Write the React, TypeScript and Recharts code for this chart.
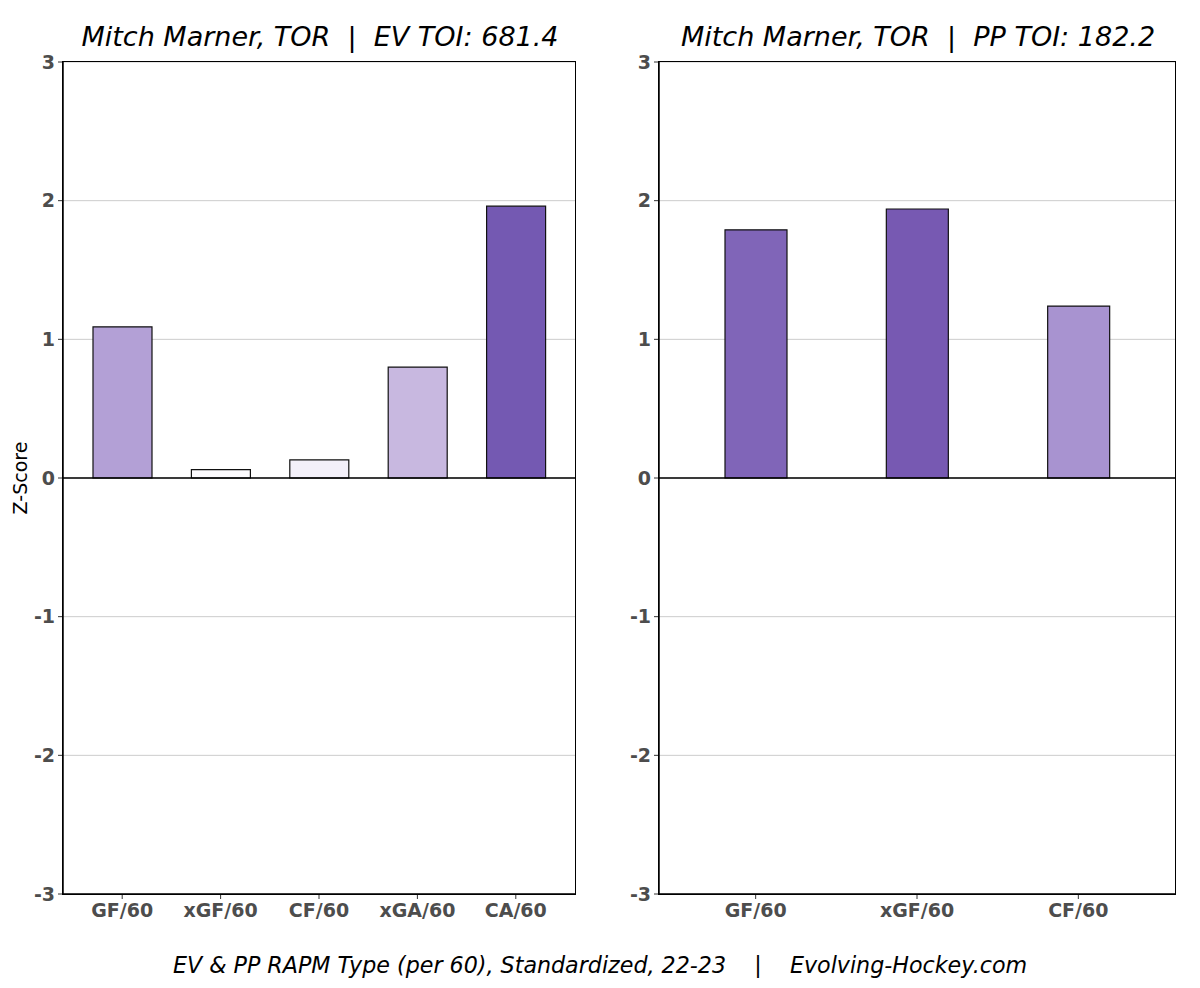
import { BarChart, Bar, Cell, XAxis, YAxis, CartesianGrid, ReferenceLine } from "recharts";

const evCategories = ["GF/60", "xGF/60", "CF/60", "xGA/60", "CA/60"];
const evValues = [1.09, 0.06, 0.13, 0.8, 1.96];
const evColors = ["#b3a0d6", "#fbfafd", "#f3f0f9", "#c8b8e0", "#7459b2"];

const ppCategories = ["GF/60", "xGF/60", "CF/60"];
const ppValues = [1.79, 1.94, 1.24];
const ppColors = ["#8065b8", "#7759b2", "#a893d0"];

const yTicks = [-3, -2, -1, 0, 1, 2, 3];

const FONT = "'DejaVu Sans', sans-serif";
const tickStyle = { fontFamily: FONT, fontSize: 19, fontWeight: "bold", fill: "#4d4d4d" };

interface PanelProps {
  categories: string[];
  values: number[];
  colors: string[];
  padding: number;
  barSize: number;
  marginLeft: number;
}

function Panel({ categories, values, colors, padding, barSize, marginLeft }: PanelProps) {
  const data = categories.map((c, i) => ({ name: c, value: values[i], color: colors[i] }));
  return (
    <div style={{ position: "relative", width: 600, height: 988 }}>
      <BarChart
        width={600}
        height={988}
        data={data}
        margin={{ top: 62, right: 25, bottom: 64, left: marginLeft }}
      >
        <CartesianGrid horizontal vertical={false} stroke="#cccccc" strokeWidth={1} />
        <XAxis
          dataKey="name"
          padding={{ left: padding, right: padding }}
          height={30}
          tick={tickStyle}
          tickSize={5}
          tickMargin={5}
          axisLine={{ stroke: "#000", strokeWidth: 1.5 }}
          tickLine={{ stroke: "#333" }}
          interval={0}
        />
        <YAxis
          domain={[-3, 3]}
          ticks={yTicks}
          width={55}
          tick={tickStyle}
          tickSize={5}
          tickMargin={3}
          axisLine={{ stroke: "#000", strokeWidth: 1.5 }}
          tickLine={{ stroke: "#333" }}
          allowDataOverflow
        />
        <ReferenceLine y={0} stroke="#000" strokeWidth={1.5} />
        <Bar dataKey="value" barSize={barSize} stroke="#111" strokeWidth={1.2} isAnimationActive={false}>
          {data.map((d) => (
            <Cell key={d.name} fill={d.color} />
          ))}
        </Bar>
      </BarChart>
      {/* plot frame */}
      <div
        style={{
          position: "absolute",
          left: marginLeft + 55 - 0.75,
          top: 62 - 0.75,
          width: 600 - 25 - marginLeft - 55,
          height: 988 - 62 - 94,
          border: "1.5px solid #000",
          pointerEvents: "none",
        }}
      />
    </div>
  );
}

const titleStyle: React.CSSProperties = {
  position: "absolute",
  top: 21,
  fontFamily: FONT,
  fontStyle: "italic",
  fontSize: 27,
  color: "#000",
  whiteSpace: "pre",
  transform: "translateX(-50%)",
};

export default function App() {
  return (
    <div style={{ position: "absolute", left: 0, top: 0, width: 1200, height: 988, background: "#fff" }}>
      <div style={{ position: "absolute", left: 0, top: 0 }}>
        <Panel categories={evCategories} values={evValues} colors={evColors} padding={10} barSize={59} marginLeft={8} />
      </div>
      <div style={{ position: "absolute", left: 600, top: 0 }}>
        <Panel categories={ppCategories} values={ppValues} colors={ppColors} padding={16} barSize={62} marginLeft={4} />
      </div>
      <div style={{ ...titleStyle, left: 320 }}>{"Mitch Marner, TOR  |  EV TOI: 681.4"}</div>
      <div style={{ ...titleStyle, left: 918 }}>{"Mitch Marner, TOR  |  PP TOI: 182.2"}</div>
      <div
        style={{
          position: "absolute",
          left: 20,
          top: 478,
          fontFamily: FONT,
          fontSize: 19,
          transform: "translate(-50%, -50%) rotate(-90deg)",
          whiteSpace: "nowrap",
        }}
      >
        Z-Score
      </div>
      <div
        style={{
          position: "absolute",
          left: 600,
          top: 952,
          fontFamily: FONT,
          fontStyle: "italic",
          fontSize: 22.2,
          whiteSpace: "pre",
          transform: "translateX(-50%)",
        }}
      >
        {"EV & PP RAPM Type (per 60), Standardized, 22-23    |    Evolving-Hockey.com"}
      </div>
    </div>
  );
}
